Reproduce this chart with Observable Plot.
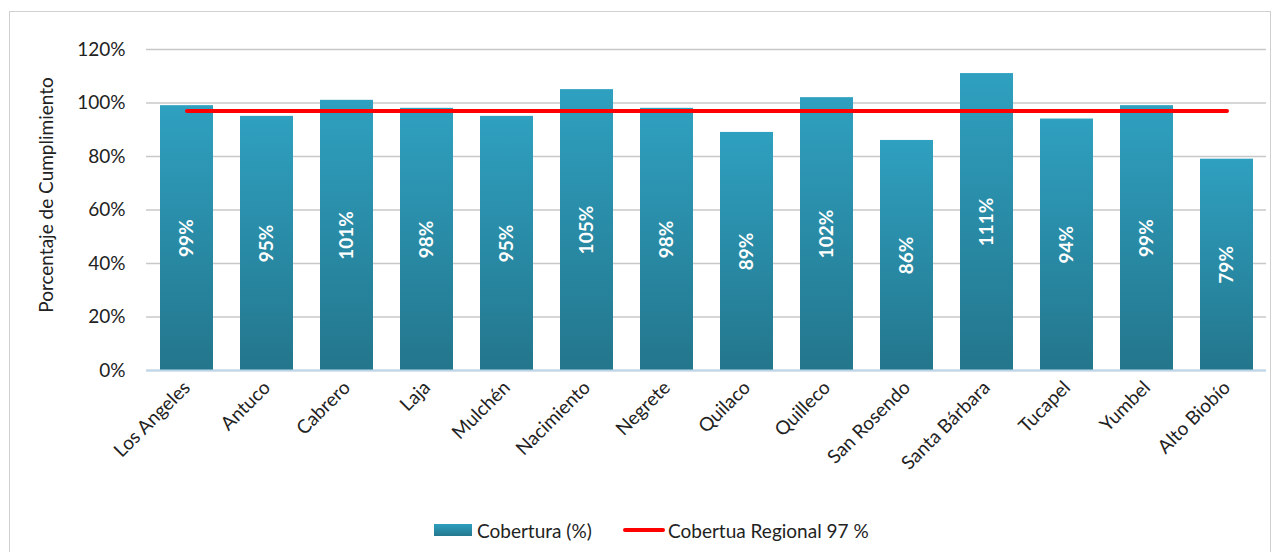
<!DOCTYPE html>
<html>
<head>
<meta charset="utf-8">
<script src="https://cdn.jsdelivr.net/npm/d3@7"></script>
<script src="https://cdn.jsdelivr.net/npm/@observablehq/plot@0.6"></script>
<style>
  html, body { margin: 0; padding: 0; background: #fff; }
  body { width: 1273px; height: 552px; overflow: hidden; position: relative; font-family: Lato, "Open Sans", sans-serif; }
  #frame { position: absolute; left: 9px; top: 11px; width: 1262px; height: 560px; border: 1px solid #d0d0d0; box-sizing: border-box; }
  #chart { position: absolute; left: 0; top: 0; }
  #legend { position: absolute; top: 518px; left: 0; width: 1273px; height: 24px; font-size: 19px; color: #222; }
  .item { position: absolute; top: 0; display: flex; align-items: center; height: 24px; }
  .sw { width: 38px; height: 12px; background: linear-gradient(#2e9fbe, #24788e); margin-right: 5px; }
  .ln { width: 42px; height: 4px; background: #ff0000; border-radius: 2px; margin-right: 3px; }
</style>
</head>
<body>
<div id="frame"></div>
<div id="chart"></div>
<div id="legend">
  <div class="item" style="left:434px"><div class="sw"></div><span>Cobertura (%)</span></div>
  <div class="item" style="left:623px"><div class="ln"></div><span>Cobertua Regional 97 %</span></div>
</div>
<script>
const categories = ["Los Angeles", "Antuco", "Cabrero", "Laja", "Mulchén", "Nacimiento", "Negrete", "Quilaco", "Quilleco", "San Rosendo", "Santa Bárbara", "Tucapel", "Yumbel", "Alto Biobío"];
const coverage = [0.99, 0.95, 1.01, 0.98, 0.95, 1.05, 0.98, 0.89, 1.02, 0.86, 1.11, 0.94, 0.99, 0.79];
const regional = 0.97;
const yTicks = [0, 0.2, 0.4, 0.6, 0.8, 1.0, 1.2];

const data = categories.map((c, i) => ({category: c, value: coverage[i], regional}));

const chart = Plot.plot({
  width: 1273,
  height: 480,
  marginLeft: 146,
  marginRight: 7,
  marginTop: 49,
  marginBottom: 110,
  style: {fontFamily: "Lato, 'Open Sans', sans-serif", fontSize: "19px", color: "#222", background: "transparent", overflow: "visible"},
  x: {domain: categories, paddingInner: 0.34, paddingOuter: 0.17, label: null},
  y: {domain: [0, 1.2], label: null},
  marks: [
    Plot.gridY(yTicks, {stroke: "#c8c8c8", strokeOpacity: 1, strokeWidth: 1.3}),
    Plot.axisY(yTicks, {tickFormat: d3.format(".0%"), tickSize: 0, tickPadding: 21, fontSize: 19, label: null}),
    Plot.axisX({tickRotate: -45, tickSize: 0, tickPadding: 14, fontSize: 19, label: null}),
    Plot.barY(data, {x: "category", y: "value", fill: "url(#barGrad)", style: "filter: drop-shadow(1px 1px 1.5px rgba(0,0,0,0.25))"}),
    Plot.ruleY([0], {stroke: "#bcd6ea", strokeWidth: 2}),
    Plot.line(data, {x: "category", y: "regional", stroke: "#ff0000", strokeWidth: 4, strokeLinecap: "round", style: "filter: drop-shadow(1px 1px 1px rgba(0,0,0,0.3))"}),
    Plot.text(data, {x: "category", y: d => d.value / 2, text: d => d3.format(".0%")(d.value), rotate: -90, fill: "white", fontWeight: "bold", fontSize: 19})
  ]
});

const ns = "http://www.w3.org/2000/svg";
const defs = document.createElementNS(ns, "defs");
defs.innerHTML = '<linearGradient id="barGrad" x1="0" y1="0" x2="0" y2="1"><stop offset="0" stop-color="#2fa0c0"/><stop offset="1" stop-color="#23768c"/></linearGradient>';
chart.insertBefore(defs, chart.firstChild);

// y axis title
const t = document.createElementNS(ns, "text");
t.setAttribute("transform", "translate(53,195) rotate(-90)");
t.setAttribute("text-anchor", "middle");
t.setAttribute("font-size", "19");
t.setAttribute("fill", "#222");
t.textContent = "Porcentaje de Cumplimiento";
chart.appendChild(t);

document.getElementById("chart").appendChild(chart);
</script>
</body>
</html>
